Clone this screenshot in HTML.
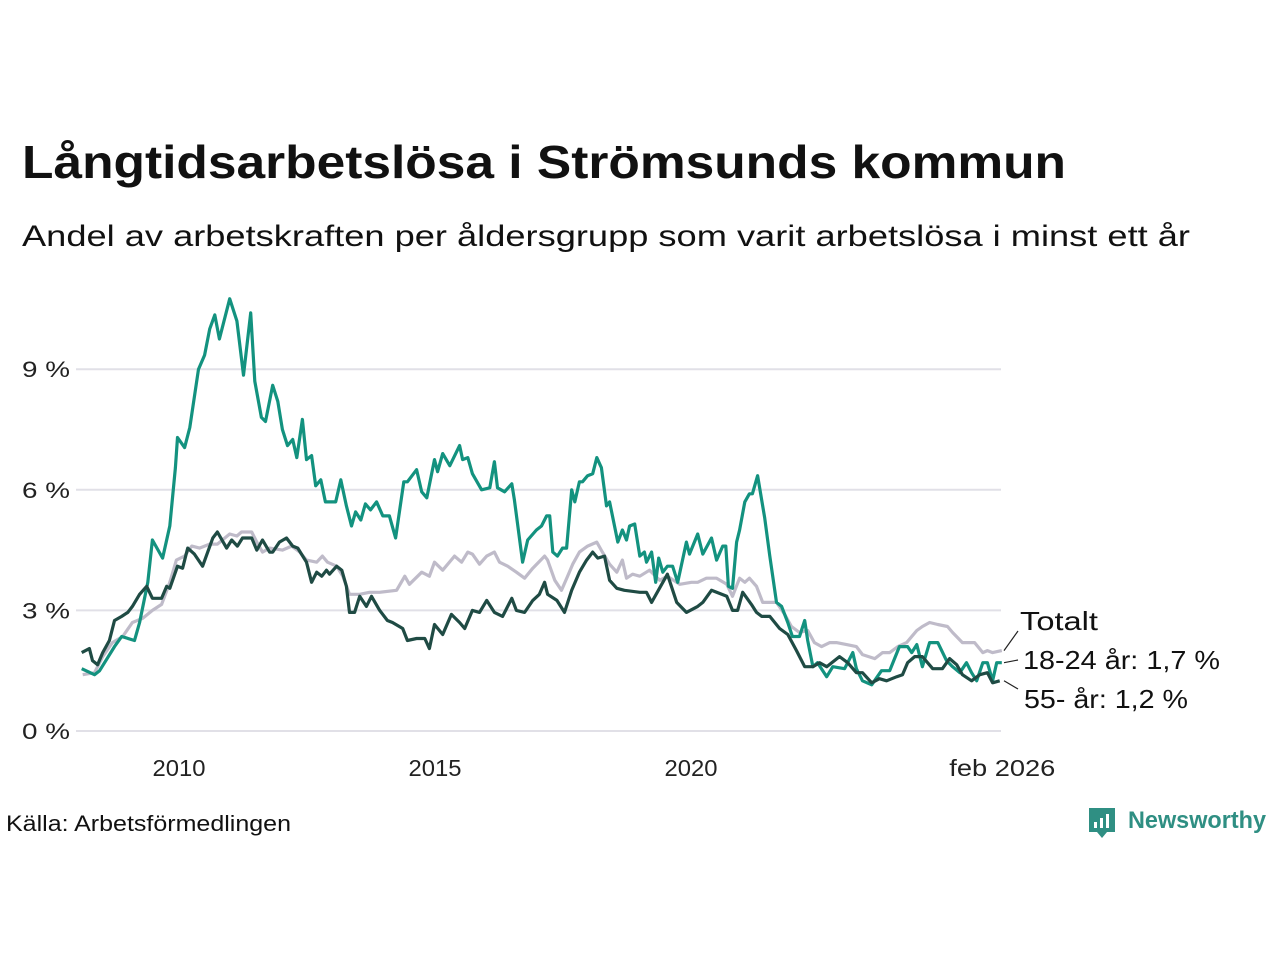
<!DOCTYPE html>
<html><head><meta charset="utf-8">
<style>
html,body{margin:0;padding:0;background:#fff;}
svg{display:block;font-family:"Liberation Sans",sans-serif;}
</style></head>
<body>
<svg id="chart" width="1280" height="960" viewBox="0 0 1280 960" xmlns="http://www.w3.org/2000/svg">
<text x="22" y="178" font-size="46" font-weight="bold" fill="#111" textLength="1044" lengthAdjust="spacingAndGlyphs">Långtidsarbetslösa i Strömsunds kommun</text>
<text x="22" y="246" font-size="30" fill="#111" textLength="1168" lengthAdjust="spacingAndGlyphs">Andel av arbetskraften per åldersgrupp som varit arbetslösa i minst ett år</text>
<g id="grid"></g>
<g id="series"></g>
<g id="labels"></g>
<text x="6" y="831" font-size="22" fill="#111" textLength="285" lengthAdjust="spacingAndGlyphs">Källa: Arbetsförmedlingen</text>
<g>
<path d="M1089 808 h26 v24 h-8 l-5 6 l-5 -6 h-8 z" fill="#2f8f83"/>
<rect x="1094" y="822" width="3" height="6" fill="#fff"/>
<rect x="1100" y="818" width="3" height="10" fill="#fff"/>
<rect x="1106" y="814" width="3" height="14" fill="#fff"/>
<text x="1128" y="828" font-size="24" font-weight="bold" fill="#2f8f83" textLength="138" lengthAdjust="spacingAndGlyphs">Newsworthy</text>
</g>
</svg>
<script>
const BASE_YEAR = 2008;
const yTicks = [0, 3, 6, 9];
const yTickLabels = ["0 %", "3 %", "6 %", "9 %"];
const xTicks = [2010, 2015, 2020, 2026.08];
const xTickLabels = ["2010", "2015", "2020", "feb 2026"];
const seriesNames = ["Totalt", "18-24 år: 1,7 %", "55- år: 1,2 %"];

const totalT = [.12,.35,.51,.70,.90,1.09,1.29,1.48,1.66,1.82,1.95,2.11,2.25,2.40,2.60,2.75,2.99,3.13,3.22,3.42,3.52,3.63,3.77,4.02,4.20,4.36,4.49,4.69,4.80,4.90,5.08,5.20,5.33,5.53,5.72,5.92,6.25,6.41,6.50,6.74,6.89,6.99,7.15,7.38,7.52,7.64,7.73,7.87,8.01,8.16,8.26,8.42,8.59,8.75,8.91,9.14,9.20,9.34,9.47,9.59,9.69,9.82,9.98,10.16,10.27,10.41,10.55,10.66,10.74,10.86,11.00,11.19,11.39,11.54,11.78,12.01,12.13,12.30,12.50,12.70,12.81,12.95,13.05,13.14,13.28,13.40,13.67,13.83,13.96,14.12,14.28,14.41,14.55,14.71,14.84,15.04,15.23,15.35,15.59,15.74,15.88,16.04,16.21,16.41,16.52,16.66,16.82,17.01,17.11,17.30,17.54,17.70,17.79,17.89,18.07];
const totalV = [1.4,1.45,1.85,2.2,2.35,2.7,2.8,3.0,3.15,3.7,4.25,4.35,4.6,4.55,4.65,4.65,4.9,4.85,4.95,4.95,4.7,4.45,4.55,4.5,4.6,4.45,4.25,4.2,4.35,4.2,4.1,3.85,3.4,3.4,3.45,3.45,3.5,3.85,3.65,3.95,3.85,4.2,4.0,4.35,4.2,4.45,4.4,4.15,4.35,4.45,4.2,4.1,3.95,3.8,4.05,4.35,4.25,3.75,3.5,3.85,4.15,4.45,4.6,4.7,4.45,4.15,3.95,4.25,3.8,3.9,3.85,4.0,3.75,3.85,3.65,3.7,3.7,3.8,3.8,3.65,3.35,3.8,3.7,3.8,3.6,3.2,3.2,2.9,2.6,2.45,2.5,2.2,2.1,2.2,2.2,2.15,2.1,1.9,1.8,1.95,1.95,2.1,2.2,2.5,2.6,2.7,2.65,2.6,2.45,2.2,2.2,1.95,2.0,1.95,2.0];

const youngT = [.10,.35,.45,.74,.88,1.13,1.23,1.39,1.48,1.68,1.82,1.93,1.97,2.11,2.21,2.38,2.50,2.60,2.70,2.79,2.99,3.13,3.26,3.40,3.48,3.61,3.69,3.83,3.93,4.02,4.12,4.22,4.30,4.41,4.49,4.59,4.67,4.77,4.86,5.06,5.16,5.27,5.37,5.45,5.55,5.64,5.74,5.86,5.98,6.11,6.23,6.39,6.46,6.64,6.74,6.84,6.99,7.05,7.15,7.29,7.48,7.54,7.64,7.73,7.91,8.07,8.16,8.22,8.36,8.50,8.55,8.71,8.81,8.98,9.08,9.18,9.24,9.30,9.39,9.49,9.57,9.67,9.73,9.82,9.88,9.98,10.08,10.16,10.25,10.35,10.41,10.57,10.66,10.74,10.80,10.90,11.00,11.09,11.13,11.23,11.31,11.37,11.45,11.54,11.64,11.74,11.91,11.97,12.13,12.23,12.40,12.50,12.62,12.68,12.73,12.81,12.89,12.95,13.05,13.14,13.20,13.30,13.44,13.54,13.67,13.77,13.89,13.98,14.12,14.22,14.28,14.38,14.47,14.65,14.77,15.00,15.16,15.23,15.35,15.53,15.72,15.88,16.07,16.23,16.31,16.41,16.52,16.66,16.82,16.99,17.11,17.25,17.38,17.48,17.58,17.70,17.79,17.89,17.97,18.07];
const youngV = [1.55,1.4,1.5,2.1,2.35,2.25,2.7,3.7,4.75,4.3,5.1,6.55,7.3,7.05,7.55,9.0,9.35,10.0,10.35,9.75,10.75,10.2,8.85,10.4,8.7,7.8,7.7,8.6,8.2,7.5,7.1,7.25,6.8,7.75,6.75,6.85,6.1,6.25,5.7,5.7,6.25,5.6,5.1,5.45,5.25,5.65,5.5,5.7,5.35,5.35,4.8,6.2,6.2,6.5,5.95,5.8,6.75,6.45,6.9,6.6,7.1,6.75,6.8,6.4,6.0,6.05,6.7,6.05,5.95,6.15,5.75,4.2,4.75,5.0,5.1,5.35,5.35,4.45,4.35,4.55,4.55,6.0,5.7,6.2,6.2,6.35,6.4,6.8,6.55,5.6,5.7,4.7,5.0,4.75,5.1,5.15,4.35,4.45,4.2,4.45,3.7,4.3,3.95,4.1,4.1,3.7,4.7,4.4,4.9,4.4,4.8,4.25,4.6,4.6,3.6,3.55,4.7,5.0,5.7,5.9,5.9,6.35,5.3,4.35,3.2,3.1,2.7,2.35,2.35,2.75,2.25,1.6,1.7,1.35,1.6,1.55,1.95,1.55,1.25,1.15,1.5,1.5,2.1,2.1,1.95,2.15,1.6,2.2,2.2,1.75,1.6,1.45,1.7,1.45,1.25,1.7,1.7,1.25,1.7,1.7];

const oldT = [.10,.25,.31,.41,.51,.64,.74,.88,1.0,1.09,1.23,1.37,1.48,1.66,1.76,1.82,1.97,2.07,2.17,2.30,2.46,2.66,2.75,2.93,3.03,3.14,3.24,3.42,3.52,3.63,3.77,3.83,3.96,4.10,4.22,4.32,4.49,4.59,4.69,4.79,4.88,4.94,5.08,5.18,5.27,5.33,5.43,5.53,5.66,5.76,5.92,6.07,6.17,6.37,6.46,6.64,6.80,6.89,6.99,7.15,7.32,7.48,7.58,7.73,7.87,8.01,8.16,8.32,8.50,8.59,8.75,8.91,9.04,9.14,9.20,9.38,9.53,9.67,9.82,9.96,10.08,10.18,10.31,10.41,10.55,10.70,11.00,11.13,11.23,11.54,11.72,11.91,12.13,12.23,12.40,12.60,12.70,12.81,12.91,13.01,13.18,13.28,13.38,13.54,13.73,13.89,14.06,14.22,14.38,14.51,14.65,14.90,15.06,15.23,15.35,15.53,15.68,15.82,16.02,16.13,16.23,16.37,16.52,16.72,16.91,17.05,17.19,17.30,17.48,17.64,17.79,17.89,18.03];
const oldV = [1.95,2.05,1.75,1.65,1.95,2.25,2.75,2.85,2.95,3.1,3.4,3.6,3.3,3.3,3.6,3.55,4.1,4.05,4.55,4.4,4.1,4.8,4.95,4.55,4.75,4.6,4.8,4.8,4.5,4.75,4.45,4.45,4.7,4.8,4.6,4.55,4.2,3.7,3.95,3.85,4.0,3.9,4.1,4.0,3.6,2.95,2.95,3.35,3.1,3.35,3.0,2.75,2.7,2.55,2.25,2.3,2.3,2.05,2.65,2.4,2.9,2.7,2.55,3.0,2.95,3.25,2.95,2.85,3.3,3.0,2.95,3.25,3.4,3.7,3.4,3.25,2.95,3.5,3.95,4.25,4.45,4.3,4.35,3.75,3.55,3.5,3.45,3.45,3.2,3.9,3.2,2.95,3.1,3.2,3.5,3.4,3.35,3.0,3.0,3.45,3.15,2.95,2.85,2.85,2.55,2.4,2.0,1.6,1.6,1.7,1.6,1.85,1.7,1.45,1.45,1.2,1.3,1.25,1.35,1.4,1.7,1.85,1.85,1.55,1.55,1.8,1.65,1.4,1.25,1.4,1.45,1.2,1.25];

const NS = "http://www.w3.org/2000/svg";
const X0 = 76.6, PXY = 51.2, Y0 = 731, PXV = 40.2;
function xs(year){ return X0 + (year - BASE_YEAR) * PXY; }
function ys(v){ return Y0 - v * PXV; }
function mk(tag, attrs, parent){ const e=document.createElementNS(NS,tag); for(const k in attrs) e.setAttribute(k,attrs[k]); parent.appendChild(e); return e; }

const grid = document.getElementById('grid');
yTicks.forEach((t,i)=>{
  const l = mk('line',{x1:76,x2:1001,y1:ys(t),y2:ys(t),stroke:'#e1e0e7','stroke-width':2},grid);
  
  
  const tx = mk('text',{x:22,y:ys(t)+8,'font-size':22,fill:'#222',textLength:48,lengthAdjust:'spacingAndGlyphs'},grid);
  tx.textContent = yTickLabels[i];
  
  
});
xTicks.forEach((t,i)=>{
  const w = xTickLabels[i].length * 13.2;
  const tx = mk('text',{x:xs(t),y:776,'font-size':23,fill:'#222','text-anchor':'middle',textLength:w.toFixed(0),lengthAdjust:'spacingAndGlyphs'},grid);
  tx.textContent = xTickLabels[i];
  
  
});

const sg = document.getElementById('series');
function line(T,V,color,name){
  const d = T.map((t,i)=>(i?'L':'M')+xs(BASE_YEAR+t).toFixed(1)+' '+ys(V[i]).toFixed(1)).join(' ');
  const p = mk('path',{d:d,fill:'none',stroke:color,'stroke-width':3.2,'stroke-linejoin':'round'},sg);
  
  
}
line(totalT,totalV,'#bfbbc9','line-totalt');
line(youngT,youngV,'#13927f','line-18-24');
line(oldT,oldV,'#1f4b44','line-55');

const lg = document.getElementById('labels');
const labelW = [78, 197, 164];
const ends = [[totalV[totalV.length-1],621],[youngV[youngV.length-1],660],[oldV[oldV.length-1],699]];
ends.forEach((e,i)=>{
  const l = mk('line',{x1:1004,y1:ys(e[0]),x2:1018,y2:e[1]+ (i==0?10:(i==1?0:-10)),stroke:'#222','stroke-width':1.2},lg);
  
  
  const tx = mk('text',{x:i==0?1020:(i==1?1023:1024),y:e[1]+9,'font-size':26,fill:'#111',textLength:labelW[i],lengthAdjust:'spacingAndGlyphs'},lg);
  tx.textContent = seriesNames[i];
  
  
});
</script>
</body></html>
